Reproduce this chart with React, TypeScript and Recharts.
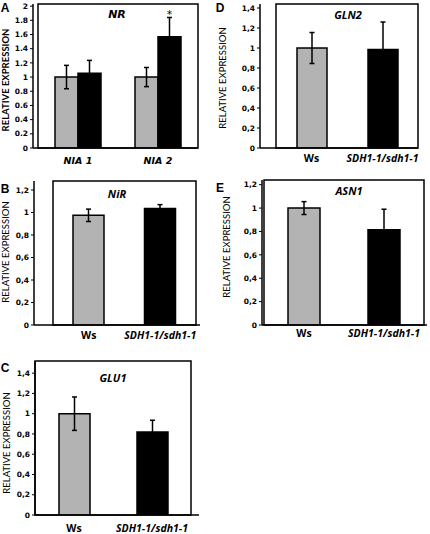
import React from 'react';
import { BarChart, Bar, XAxis, YAxis, ErrorBar, Cell, LabelList, ReferenceArea } from 'recharts';

const GREY = '#b3b3b3';
const genotypeColors = [GREY, '#000000'];

// A - NR (two genes, Ws vs mutant)
const nrGenes = ['NIA 1', 'NIA 2'];
const nrWs = [1.0, 1.0];
const nrWsErr = [0.165, 0.135];
const nrMutant = [1.055, 1.57];
const nrMutantErr = [0.18, 0.27];
const nrSignif = ['', '*'];
const ticksTo2 = [0, 0.2, 0.4, 0.6, 0.8, 1, 1.2, 1.4, 1.6, 1.8, 2];

// B-E : Ws vs SDH1-1/sdh1-1
const genotypes = ['Ws', 'SDH1-1/sdh1-1'];
const nirValues = [0.975, 1.035];
const nirErr = [0.055, 0.035];
const glu1Values = [1.0, 0.82];
const glu1Err = [0.165, 0.115];
const gln2Values = [1.0, 0.985];
const gln2Err = [0.155, 0.275];
const asn1Values = [1.0, 0.815];
const asn1Err = [0.055, 0.175];
const ticksTo12 = [0, 0.2, 0.4, 0.6, 0.8, 1, 1.2];
const ticksTo14 = [0, 0.2, 0.4, 0.6, 0.8, 1, 1.2, 1.4];

const nrData = nrGenes.map((name, i) => ({
  name,
  ws: nrWs[i],
  wsErr: nrWsErr[i],
  mutant: nrMutant[i],
  mutantErr: nrMutantErr[i],
  sig: nrSignif[i],
}));

const toRows = (values: number[], errs: number[]) =>
  genotypes.map((name, i) => ({ name, value: values[i], err: errs[i] }));

const XTick = (props: any) => {
  const { x, y, payload, dy, font, size } = props;
  const italic = payload.value !== 'Ws';
  return (
    <text
      x={x}
      y={y + dy}
      textAnchor="middle"
      dominantBaseline="central"
      fontFamily={font}
      fontSize={size}
      fontWeight="bold"
      fontStyle={italic ? 'italic' : 'normal'}
      fill="#000"
    >
      {payload.value}
    </text>
  );
};

type PanelProps = {
  left: number;
  top: number;
  width: number;
  box: [number, number, number, number];
  yMax: number;
  ticks: number[];
  decimal: string;
  data: any[];
  grouped?: boolean;
  barSize: number;
  padL: number;
  padR: number;
  xDy: number;
  xFont: string;
  xSize: number;
};

function Panel(p: PanelProps) {
  const [x0, y0, x1, y1] = p.box;
  const height = y1 - p.top + 24;
  const margin = { top: y0 - p.top, right: p.left + p.width - x1, bottom: 0, left: 0 };
  const axisStyle = { stroke: '#000', strokeWidth: 1.5 };
  return (
    <div style={{ position: 'absolute', left: p.left, top: p.top }}>
      <BarChart width={p.width} height={height} data={p.data} margin={margin} barGap={0} barSize={p.barSize}>
        <XAxis
          dataKey="name"
          height={24}
          interval={0}
          tickLine={false}
          tickSize={0}
          tickMargin={0}
          axisLine={axisStyle}
          padding={{ left: p.padL, right: p.padR }}
          tick={(t: any) => <XTick {...t} dy={p.xDy} font={p.xFont} size={p.xSize} />}
        />
        <YAxis
          width={x0 - p.left}
          domain={[0, p.yMax]}
          ticks={p.ticks}
          allowDataOverflow
          interval={0}
          tickSize={3}
          tickMargin={2}
          axisLine={axisStyle}
          tickLine={{ stroke: '#000', strokeWidth: 1 }}
          tickFormatter={(v: number) => String(v).replace('.', p.decimal)}
          tick={{ fontFamily: 'DejaVu Sans', fontSize: 7.5, fontWeight: 'bold', fill: '#000' }}
        />
        {p.grouped ? (
          <Bar dataKey="ws" fill={GREY} stroke="#000" strokeWidth={1.5} isAnimationActive={false}>
            <ErrorBar dataKey="wsErr" width={2.5} stroke="#000" strokeWidth={1.5} />
          </Bar>
        ) : (
          <Bar dataKey="value" stroke="#000" strokeWidth={1.5} isAnimationActive={false}>
            {p.data.map((d, i) => (
              <Cell key={d.name} fill={genotypeColors[i]} />
            ))}
            <ErrorBar dataKey="err" width={2.5} stroke="#000" strokeWidth={1.5} />
          </Bar>
        )}
        {p.grouped && (
          <Bar dataKey="mutant" fill="#000" stroke="#000" strokeWidth={1.5} isAnimationActive={false}>
            <ErrorBar dataKey="mutantErr" width={2.5} stroke="#000" strokeWidth={1.5} />
            <LabelList dataKey="sig" position="top" offset={19} fill="#000" fontSize={11} fontFamily="DejaVu Sans" />
          </Bar>
        )}
        <ReferenceArea y1={0} y2={p.yMax} fill="none" stroke="#000" strokeWidth={1.5} ifOverflow="visible" />
      </BarChart>
    </div>
  );
}

const Txt = (props: {
  x: number;
  y: number;
  text: string;
  size: number;
  font: string;
  italic?: boolean;
  bold?: boolean;
  rotate?: boolean;
}) => (
  <div
    style={{
      position: 'absolute',
      left: props.x,
      top: props.y,
      transform: `translate(-50%, -50%)${props.rotate ? ' rotate(-90deg)' : ''}`,
      whiteSpace: 'nowrap',
      lineHeight: 1,
      fontFamily: props.font,
      fontSize: props.size,
      fontWeight: props.bold ? 'bold' : 'normal',
      fontStyle: props.italic ? 'italic' : 'normal',
      color: '#000',
    }}
  >
    {props.text}
  </div>
);

export default function App() {
  const yLabel = 'RELATIVE EXPRESSION';
  return (
    <div
      style={{
        position: 'absolute',
        left: 0,
        top: 0,
        width: 430,
        height: 534,
        background: '#fff',
        overflow: 'hidden',
      }}
    >
      {/* A */}
      <Panel left={0} top={0} width={215} box={[33, 4, 198, 148]} yMax={2.03} ticks={ticksTo2} decimal="."
        data={nrData} grouped barSize={23} padL={5} padR={0} xDy={12} xFont="DejaVu Sans" xSize={9.5} />
      {/* D */}
      <Panel left={215} top={0} width={215} box={[260, 4, 418, 148]} yMax={1.44} ticks={ticksTo14} decimal=","
        data={toRows(gln2Values, gln2Err)} barSize={30} padL={16} padR={0} xDy={9.5} xFont="Open Sans" xSize={10.5} />
      {/* B */}
      <Panel left={0} top={175} width={215} box={[34, 181, 200, 325]} yMax={1.28} ticks={ticksTo12} decimal=","
        data={toRows(nirValues, nirErr)} barSize={31} padL={19} padR={4} xDy={9.5} xFont="Open Sans" xSize={10.5} />
      {/* E */}
      <Panel left={215} top={175} width={215} box={[262, 180, 427, 325]} yMax={1.24} ticks={ticksTo12} decimal=","
        data={toRows(asn1Values, asn1Err)} barSize={32} padL={2} padR={3} xDy={7.5} xFont="Open Sans" xSize={10.5} />
      {/* C */}
      <Panel left={0} top={355} width={215} box={[35, 361, 199, 515]} yMax={1.52} ticks={ticksTo14} decimal=","
        data={toRows(glu1Values, glu1Err)} barSize={31} padL={0} padR={8} xDy={12.5} xFont="Open Sans" xSize={10.5} />

      <Txt x={5} y={8} text="A" size={12} font="Liberation Sans" bold />
      <Txt x={220} y={8} text="D" size={12} font="Liberation Sans" bold />
      <Txt x={5} y={189} text="B" size={12} font="Liberation Sans" bold />
      <Txt x={220} y={188} text="E" size={12} font="Liberation Sans" bold />
      <Txt x={5} y={368} text="C" size={12} font="Liberation Sans" bold />

      <Txt x={117} y={14} text="NR" size={11} font="DejaVu Sans" bold italic />
      <Txt x={348} y={14} text="GLN2" size={11} font="Open Sans" bold italic />
      <Txt x={117} y={193} text="NiR" size={11} font="Open Sans" bold italic />
      <Txt x={349} y={190} text="ASN1" size={11} font="Open Sans" bold italic />
      <Txt x={113} y={377} text="GLU1" size={11} font="Open Sans" bold italic />

      <Txt x={6} y={80} text={yLabel} size={9.5} font="Lato" rotate bold />
      <Txt x={223} y={78} text={yLabel} size={9.5} font="Lato" rotate />
      <Txt x={6} y={252} text={yLabel} size={9.5} font="Lato" rotate />
      <Txt x={227} y={247} text={yLabel} size={9.5} font="Lato" rotate />
      <Txt x={7} y={443} text={yLabel} size={9.5} font="Lato" rotate />
    </div>
  );
}
